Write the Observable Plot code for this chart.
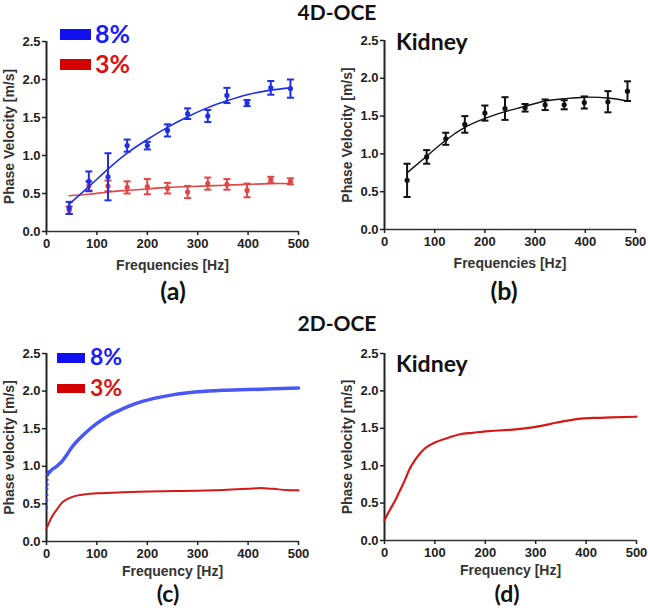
<!DOCTYPE html>
<html><head><meta charset="utf-8">
<script src="https://cdn.jsdelivr.net/npm/d3@7"></script>
<script src="https://cdn.jsdelivr.net/npm/@observablehq/plot@0.6"></script>
<style>
body{margin:0;background:#fff;}
#fig{position:relative;width:648px;height:610px;overflow:hidden;background:#fff;}
.panel{position:absolute;}
#overlay{position:absolute;left:0;top:0;}
</style></head><body><div id="fig"></div>
<script>
// ---------- 4D-OCE data (panels a, b) ----------
const freqs4D = [45, 84, 122, 160, 200, 240, 280, 320, 358, 398, 445, 484];
const vel8 = [0.31, 0.66, 0.72, 1.13, 1.13, 1.33, 1.55, 1.52, 1.79, 1.69, 1.89, 1.88];
const err8 = [0.08, 0.13, 0.31, 0.08, 0.05, 0.08, 0.07, 0.08, 0.10, 0.04, 0.09, 0.12];
const vel3 = [0.28, 0.60, 0.60, 0.58, 0.59, 0.57, 0.52, 0.63, 0.62, 0.54, 0.68, 0.66];
const err3 = [0.05, 0.06, 0.07, 0.08, 0.10, 0.07, 0.08, 0.08, 0.07, 0.09, 0.04, 0.04];
const fit8 = [0.36, 0.59, 0.82, 1.03, 1.21, 1.37, 1.51, 1.63, 1.72, 1.80, 1.86, 1.89];
const fit3 = [0.47, 0.49, 0.52, 0.54, 0.56, 0.58, 0.59, 0.60, 0.61, 0.62, 0.63, 0.63];
const velK = [0.65, 0.96, 1.20, 1.39, 1.54, 1.60, 1.61, 1.65, 1.65, 1.68, 1.69, 1.83];
const errK = [0.22, 0.09, 0.08, 0.11, 0.10, 0.15, 0.05, 0.07, 0.06, 0.08, 0.14, 0.13];
const fitK = [0.75, 0.97, 1.18, 1.35, 1.47, 1.56, 1.63, 1.70, 1.73, 1.75, 1.74, 1.70];

// ---------- 2D-OCE data (panels c, d) ----------
const freqC8 = [3, 10, 20, 30, 40, 50, 60, 75, 100, 125, 150, 175, 200, 250, 300, 350, 400, 450, 500];
const velC8  = [0.90, 0.95, 1.00, 1.06, 1.15, 1.25, 1.33, 1.43, 1.57, 1.68, 1.76, 1.83, 1.88, 1.95, 1.99, 2.01, 2.02, 2.03, 2.04];
const freqC8start = [1, 1, 1.5, 1.5, 2, 2, 2.5, 3];
const velC8start  = [0.45, 0.55, 0.62, 0.70, 0.76, 0.82, 0.88, 0.93];
const freqC3 = [0, 5, 10, 20, 30, 40, 50, 60, 80, 100, 150, 200, 250, 300, 350, 400, 425, 450, 475, 500];
const velC3  = [0.17, 0.25, 0.32, 0.42, 0.51, 0.56, 0.59, 0.61, 0.63, 0.64, 0.655, 0.665, 0.67, 0.675, 0.685, 0.70, 0.71, 0.70, 0.685, 0.68];
const freqDK = [0, 10, 20, 30, 40, 50, 60, 70, 80, 100, 125, 150, 175, 200, 250, 300, 330, 360, 390, 420, 450, 500];
const velDK  = [0.27, 0.40, 0.52, 0.66, 0.80, 0.96, 1.07, 1.16, 1.23, 1.31, 1.37, 1.42, 1.44, 1.46, 1.48, 1.52, 1.56, 1.60, 1.63, 1.64, 1.645, 1.655];

// ---------- axes ----------
const xTicks = [0, 100, 200, 300, 400, 500];
const yTicks = [0, 0.5, 1.0, 1.5, 2.0, 2.5];

const BLUE_A = "#1f2fe6", RED_A = "#e04848", BLACK = "#111";
const BLUE_C = "#3545f5", RED_C = "#d81818";

const pts = (fs, vs, es) => fs.map((f, i) => ({f, v: vs[i], e: es ? es[i] : 0}));
const capSymbol = {draw(ctx, size) { const w = Math.sqrt(size) / 2; ctx.moveTo(-w, 0); ctx.lineTo(w, 0); }};

function errorMarks(data, color) {
  return [
    Plot.ruleX(data, {x: "f", y1: d => d.v - d.e, y2: d => d.v + d.e, stroke: color, strokeWidth: 2}),
    Plot.dot(data, {x: "f", y: d => d.v + d.e, symbol: capSymbol, r: 4, stroke: color, strokeWidth: 2}),
    Plot.dot(data, {x: "f", y: d => d.v - d.e, symbol: capSymbol, r: 4, stroke: color, strokeWidth: 2}),
    Plot.dot(data, {x: "f", y: "v", r: 2.6, fill: color})
  ];
}

function panel({left, top, mL, mR, mT, mB, xLabel, yLabel, xOff, marks}) {
  const p = Plot.plot({
    width: 324, height: 290,
    marginLeft: mL, marginRight: mR, marginTop: mT, marginBottom: mB,
    x: {domain: [0, 500]},
    y: {domain: [0, 2.5]},
    style: {fontFamily: "'Liberation Sans', Arial, sans-serif", fontWeight: "bold", color: "#222", background: "transparent"},
    marks: [
      Plot.ruleY([0], {stroke: "#333", strokeWidth: 1.5}),
      Plot.ruleX([0], {stroke: "#222", strokeWidth: 2}),
      Plot.axisX({ticks: xTicks, tickSize: 4, tickPadding: 3, strokeWidth: 1.5, fontSize: 13, label: null}),
      Plot.axisX({ticks: [], label: xLabel, labelAnchor: "center", labelArrow: "none", labelOffset: xOff, fontSize: 14, fill: "#333"}),
      Plot.axisY({ticks: yTicks, tickFormat: d3.format(".1f"), tickSize: 4, tickPadding: 2, strokeWidth: 1.5, fontSize: 13, label: null}),
      Plot.axisY({ticks: [], label: yLabel, labelAnchor: "center", labelArrow: "none", labelOffset: 42, fontSize: 14, fill: "#333"}),
      ...marks
    ]
  });
  p.classList.add("panel");
  p.style.left = left + "px";
  p.style.top = top + "px";
  return p;
}

const fig = document.getElementById("fig");

// (a)
fig.appendChild(panel({left: 0, top: 0, mL: 46, mR: 26, mT: 41, mB: 59, xOff: 38,
  xLabel: "Frequencies [Hz]", yLabel: "Phase Velocity [m/s]",
  marks: [
    ...errorMarks(pts(freqs4D, vel3, err3), RED_A),
    Plot.line(pts(freqs4D, fit3), {x: "f", y: "v", curve: "natural", stroke: RED_A, strokeWidth: 1.6}),
    ...errorMarks(pts(freqs4D, vel8, err8), BLUE_A),
    Plot.line(pts(freqs4D, fit8), {x: "f", y: "v", curve: "natural", stroke: BLUE_A, strokeWidth: 1.6})
  ]}));

// (b)
fig.appendChild(panel({left: 324, top: 0, mL: 60, mR: 13, mT: 40, mB: 61, xOff: 38,
  xLabel: "Frequencies [Hz]", yLabel: "Phase Velocity [m/s]",
  marks: [
    ...errorMarks(pts(freqs4D, velK, errK), BLACK),
    Plot.line(pts(freqs4D, fitK), {x: "f", y: "v", curve: "natural", stroke: BLACK, strokeWidth: 1.4})
  ]}));

// (c)
fig.appendChild(panel({left: 0, top: 300, mL: 46, mR: 26, mT: 53, mB: 49, xOff: 34,
  xLabel: "Frequency [Hz]", yLabel: "Phase velocity [m/s]",
  marks: [
    Plot.dot(pts(freqC8start, velC8start), {x: "f", y: "v", r: 1.2, fill: BLUE_C}),
    Plot.line(pts(freqC8, velC8), {x: "f", y: "v", curve: "monotone-x", stroke: BLUE_C, strokeWidth: 3.5, strokeOpacity: 0.9}),
    Plot.line(pts(freqC3, velC3), {x: "f", y: "v", curve: "monotone-x", stroke: RED_C, strokeWidth: 2})
  ]}));

// (d)
fig.appendChild(panel({left: 324, top: 300, mL: 60, mR: 12, mT: 53, mB: 50, xOff: 34,
  xLabel: "Frequency [Hz]", yLabel: "Phase velocity [m/s]",
  marks: [
    Plot.line(pts(freqDK, velDK), {x: "f", y: "v", curve: "monotone-x", stroke: RED_C, strokeWidth: 2.2})
  ]}));

// ---------- titles, panel letters, legends ----------
const svg = d3.select(fig).append("svg").attr("id", "overlay").attr("width", 648).attr("height", 610)
  .style("font-family", "Lato, 'Open Sans', sans-serif").style("font-weight", "bold");
const texts = [
  {t: "4D-OCE", x: 337, y: 20, s: 21, a: "middle", c: "#111"},
  {t: "2D-OCE", x: 337, y: 331, s: 21, a: "middle", c: "#111"},
  {t: "(a)", x: 173, y: 300, s: 25, a: "middle", c: "#111"},
  {t: "(b)", x: 504, y: 300, s: 25, a: "middle", c: "#111"},
  {t: "(c)", x: 168, y: 602, s: 23, a: "middle", c: "#111"},
  {t: "(d)", x: 507, y: 602, s: 23, a: "middle", c: "#111"},
  {t: "Kidney", x: 396, y: 50, s: 23, a: "start", c: "#111"},
  {t: "Kidney", x: 396, y: 372, s: 23, a: "start", c: "#111"},
  {t: "8%", x: 95, y: 43, s: 25, a: "start", c: "#1a1aff"},
  {t: "3%", x: 95, y: 73, s: 25, a: "start", c: "#dd1111"},
  {t: "8%", x: 90, y: 365, s: 23, a: "start", c: "#1a1aff"},
  {t: "3%", x: 90, y: 396, s: 23, a: "start", c: "#dd1111"}
];
svg.selectAll("text").data(texts).join("text")
  .attr("x", d => d.x).attr("y", d => d.y).attr("font-size", d => d.s)
  .attr("text-anchor", d => d.a).attr("fill", d => d.c).text(d => d.t);
const swatches = [
  {x: 60, y: 29, w: 31, h: 11, c: "#1010f0"},
  {x: 60, y: 59, w: 31, h: 11, c: "#d40000"},
  {x: 57, y: 353, w: 28, h: 10, c: "#1010f0"},
  {x: 57, y: 384, w: 28, h: 9, c: "#d40000"}
];
svg.selectAll("rect").data(swatches).join("rect")
  .attr("x", d => d.x).attr("y", d => d.y).attr("width", d => d.w).attr("height", d => d.h).attr("fill", d => d.c);
</script></body></html>
